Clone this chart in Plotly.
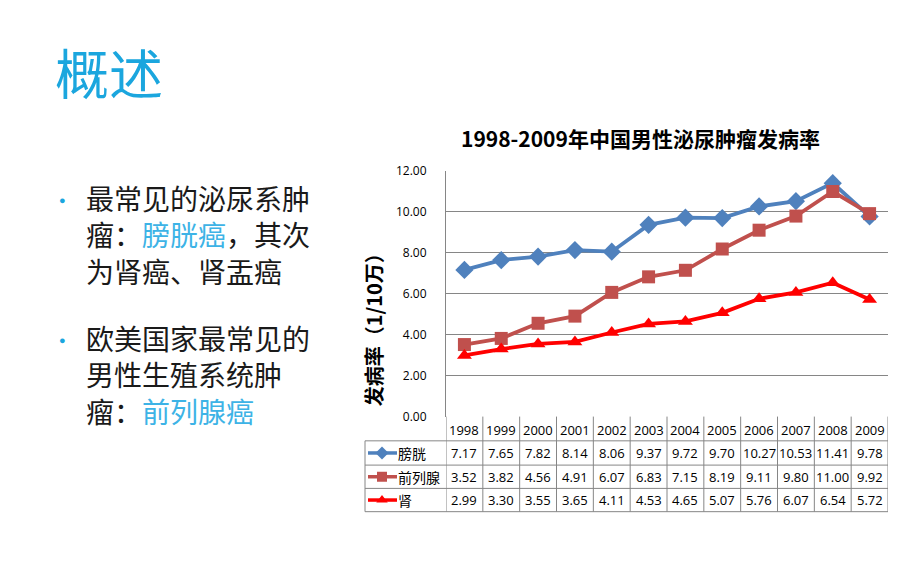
import plotly.graph_objects as go

W, H = 920, 575

years = ["1998", "1999", "2000", "2001", "2002", "2003", "2004", "2005", "2006", "2007", "2008", "2009"]
bladder = [7.17, 7.65, 7.82, 8.14, 8.06, 9.37, 9.72, 9.70, 10.27, 10.53, 11.41, 9.78]
prostate = [3.52, 3.82, 4.56, 4.91, 6.07, 6.83, 7.15, 8.19, 9.11, 9.80, 11.00, 9.92]
kidney = [2.99, 3.30, 3.55, 3.65, 4.11, 4.53, 4.65, 5.07, 5.76, 6.07, 6.54, 5.72]
series_names = ["膀胱", "前列腺", "肾"]
series_values = [bladder, prostate, kidney]
series_colors = ["#4F81BD", "#C0504D", "#FF0000"]
series_symbols = ["diamond", "square", "triangle-up"]
y_ticks = [0, 2, 4, 6, 8, 10, 12]

# geometry (pixels)
PL, PR, PT, PB = 446, 888, 167, 420
ROWS = [420, 445, 470, 494, 518]
TAB_L = 365

def px(x):
    return x / W

def py(y):
    return 1 - y / H

CJK = "Noto Sans CJK SC"
LAT = "Open Sans"
GRID = "#868686"

fig = go.Figure()
xs = list(range(len(years)))
for name, vals, col, sym in zip(series_names, series_values, series_colors, series_symbols):
    fig.add_trace(go.Scatter(
        x=xs, y=vals, mode="lines+markers", name=name,
        line=dict(color=col, width=3.8),
        marker=dict(symbol=sym, size=13 if sym != "diamond" else 14, color=col),
        xaxis="x", yaxis="y", cliponaxis=False, showlegend=False,
    ))

row_centers = [(ROWS[i] + ROWS[i + 1]) / 2 for i in range(len(ROWS) - 1)]
for i, (col, sym) in enumerate(zip(series_colors, series_symbols)):
    yc = row_centers[i + 1]
    fig.add_trace(go.Scatter(
        x=[368, 397], y=[yc, yc], mode="lines", line=dict(color=col, width=3.5),
        xaxis="x2", yaxis="y2", showlegend=False, hoverinfo="skip"))
    fig.add_trace(go.Scatter(
        x=[382], y=[yc], mode="markers", marker=dict(symbol=sym, size=10, color=col),
        xaxis="x2", yaxis="y2", showlegend=False, hoverinfo="skip"))

shapes = []
for k, y in enumerate(ROWS):
    if k == 0:
        continue
    shapes.append(dict(type="line", xref="paper", yref="paper", x0=px(TAB_L), x1=px(PR),
                       y0=py(y), y1=py(y), line=dict(color=GRID, width=1)))
for i in range(len(years) + 1):
    shapes.append(dict(type="line", xref="x", yref="paper", x0=i - 0.5, x1=i - 0.5,
                       y0=py(ROWS[0]), y1=py(ROWS[-1]), line=dict(color=GRID, width=1)))
shapes.append(dict(type="line", xref="paper", yref="paper", x0=px(TAB_L), x1=px(TAB_L),
                   y0=py(ROWS[1]), y1=py(ROWS[-1]), line=dict(color=GRID, width=1)))

ann = []
for i, yr in enumerate(years):
    ann.append(dict(x=i, y=py(row_centers[0] + 1), xref="x", yref="paper", text=yr, showarrow=False,
                    font=dict(family=LAT, size=13, color="#000000"), xanchor="center", yanchor="middle"))
    for r, vals in enumerate(series_values):
        ann.append(dict(x=i, y=py(row_centers[r + 1]), xref="x", yref="paper", text=f"{vals[i]:.2f}",
                        showarrow=False, font=dict(family=LAT, size=13, color="#000000"),
                        xanchor="center", yanchor="middle"))
for r, name in enumerate(series_names):
    ann.append(dict(x=px(396), y=py(row_centers[r + 1]), xref="paper", yref="paper", text=name,
                    showarrow=False, font=dict(family=CJK, size=14, color="#000000"),
                    xanchor="left", yanchor="middle"))

ann.append(dict(x=px(640), y=py(133), xref="paper", yref="paper",
                text="<b>1998-2009年中国男性泌尿肿瘤发病率</b>", showarrow=False,
                font=dict(family=CJK, size=21, color="#000000"), xanchor="center", yanchor="middle"))
ann.append(dict(x=px(373), y=py(326), xref="paper", yref="paper",
                text="<b>发病率（1/10万）</b>", showarrow=False, textangle=-90,
                font=dict(family=CJK, size=20, color="#000000"), xanchor="center", yanchor="middle"))

BLUE = "#1BA6DE"
HL = "#3DB3E6"
ann.append(dict(x=px(53), y=py(64), xref="paper", yref="paper", text="概述", showarrow=False,
                font=dict(family=CJK, size=54, color=BLUE), xanchor="left", yanchor="middle"))
paras = [
    (232, "最常见的泌尿系肿<br>" + f"瘤：<span style='color:{HL}'>膀胱癌</span>，其次<br>" + "为肾癌、肾盂癌"),
    (377, "欧美国家最常见的<br>男性生殖系统肿<br>" + f"瘤：<span style='color:{HL}'>前列腺癌</span>"),
]
for y, t in paras:
    ann.append(dict(x=px(84), y=py(y), xref="paper", yref="paper", text=t, showarrow=False,
                    align="left", font=dict(family=CJK, size=28, color="#1A1A1A"),
                    xanchor="left", yanchor="middle"))
for y in (196, 341):
    ann.append(dict(x=px(62), y=py(y), xref="paper", yref="paper", text="●", showarrow=False,
                    font=dict(family=LAT, size=11, color=BLUE), xanchor="center", yanchor="middle"))

fig.update_layout(
    width=W, height=H, margin=dict(l=0, r=0, t=0, b=0),
    paper_bgcolor="#FFFFFF", plot_bgcolor="rgba(0,0,0,0)",
    xaxis=dict(domain=[px(PL), px(PR)], range=[-0.5, len(years) - 0.5], showgrid=False,
               zeroline=False, showticklabels=False, ticks="", showline=False, fixedrange=True),
    yaxis=dict(domain=[py(PB), py(PT)], range=[0, 12], tickvals=y_ticks,
               ticktext=[f"{v:.2f}" for v in y_ticks], showgrid=True, gridcolor=GRID, gridwidth=1,
               zeroline=False, showline=True, linecolor=GRID, linewidth=1, ticks="",
               ticklabelstandoff=16, tickfont=dict(family=LAT, size=12, color="#000000")),
    xaxis2=dict(domain=[0, 1], range=[0, W], visible=False, anchor="y2"),
    yaxis2=dict(domain=[0, 1], range=[H, 0], visible=False, anchor="x2"),
    shapes=shapes, annotations=ann, showlegend=False,
)

fig.write_html("out.html", config={"displayModeBar": False},
               post_script="document.body.style.margin='0';document.body.style.overflow='hidden';")
